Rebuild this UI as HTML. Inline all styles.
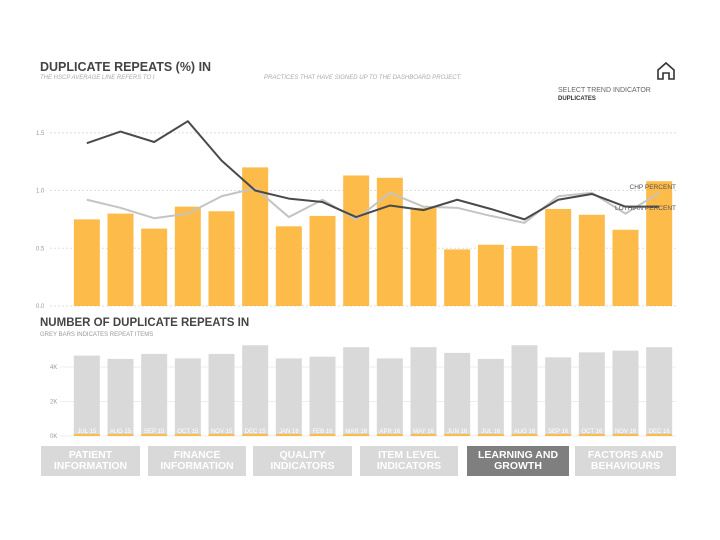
<!DOCTYPE html>
<html><head><meta charset="utf-8"><style>
body{margin:0;background:#fff;font-family:"Liberation Sans",sans-serif;}
#wrap{position:relative;width:720px;height:540px;overflow:hidden;}
.btn{position:absolute;top:446px;height:30px;background:#d9d9d9;color:#fff;font-weight:bold;font-size:10.5px;line-height:11px;text-align:center;display:flex;align-items:center;justify-content:center;}
</style></head><body>
<div id="wrap">
<div style="position:absolute;left:40px;top:60px;font-size:12.5px;font-weight:bold;color:#444;">DUPLICATE REPEATS (%) IN</div>
<div style="position:absolute;left:40px;top:75px;font-size:6px;font-style:italic;color:#aaa;">THE HSCP AVERAGE LINE REFERS TO I</div>
<div style="position:absolute;left:264px;top:75px;font-size:6px;font-style:italic;color:#aaa;">PRACTICES THAT HAVE SIGNED UP TO THE DASHBOARD PROJECT.</div>
<div style="position:absolute;left:558px;top:87px;font-size:7px;color:#666;">SELECT TREND INDICATOR</div>
<div style="position:absolute;left:558px;top:96px;font-size:6px;color:#333;font-weight:bold;">DUPLICATES</div>
<svg style="position:absolute;left:655px;top:60px" width="22" height="22" viewBox="0 0 22 22"><path d="M3 10 L11 3 L19 10 V19 H14 V13 H8 V19 H3 Z" fill="none" stroke="#333" stroke-width="1.6"/></svg>
<div style="position:absolute;left:40px;top:317px;font-size:11.5px;font-weight:bold;color:#444;">NUMBER OF DUPLICATE REPEATS IN</div>
<div style="position:absolute;left:40px;top:332px;font-size:6px;color:#999;">GREY BARS INDICATES REPEAT ITEMS</div>
<svg id="chart" width="720" height="540" style="position:absolute;left:0;top:0"></svg>
<div class="btn" style="left:41px;width:99px;">PATIENT<br>INFORMATION</div>
<div class="btn" style="left:148px;width:98px;">FINANCE<br>INFORMATION</div>
<div class="btn" style="left:253px;width:99px;">QUALITY<br>INDICATORS</div>
<div class="btn" style="left:360px;width:98px;">ITEM LEVEL<br>INDICATORS</div>
<div class="btn" style="left:467px;width:102px;background:#7f7f7f;">LEARNING AND<br>GROWTH</div>
<div class="btn" style="left:575px;width:101px;">FACTORS AND<br>BEHAVIOURS</div>
</div>
<script>
const months=["JUL 15","AUG 15","SEP 15","OCT 15","NOV 15","DEC 15","JAN 16","FEB 16","MAR 16","APR 16","MAY 16","JUN 16","JUL 16","AUG 16","SEP 16","OCT 16","NOV 16","DEC 16"];
const pctBars=[0.75,0.80,0.67,0.86,0.82,1.20,0.69,0.78,1.13,1.11,0.85,0.49,0.53,0.52,0.84,0.79,0.66,1.08];
const chpLine=[1.41,1.51,1.42,1.60,1.26,1.00,0.93,0.90,0.77,0.87,0.83,0.92,0.84,0.75,0.92,0.97,0.86,0.86];
const lothianLine=[0.92,0.85,0.76,0.80,0.95,1.02,0.77,0.92,0.75,0.98,0.86,0.85,0.78,0.72,0.95,0.98,0.80,0.98];
const pctTicks=[0,0.5,1.0,1.5];
const countBars=[4.66,4.47,4.76,4.50,4.76,5.26,4.50,4.60,5.15,4.50,5.15,4.82,4.47,5.26,4.56,4.85,4.95,5.15];
const countTicks=[0,2,4];
const NS="http://www.w3.org/2000/svg";
const svg=document.getElementById('chart');
function mk(t,a,p){const e=document.createElementNS(NS,t);for(const k in a)e.setAttribute(k,a[k]);(p||svg).appendChild(e);return e;}
const x0=70,x1=676,step=(x1-x0)/months.length,bw=26;
const xc=i=>x0+step*(i+0.5);
const y1=v=>306-v*115.5;
const y2=v=>436-v*17.25;
pctTicks.forEach(t=>{
 const g=mk('line',{x1:50,x2:676,y1:y1(t),y2:y1(t),stroke:'#ddd','stroke-dasharray':'2,2'});
 
 const l=mk('text',{x:36,y:y1(t)+2,'font-size':6,fill:'#999'});l.textContent=t.toFixed(1);
 
});
pctBars.forEach((v,i)=>{
 const r=mk('rect',{x:xc(i)-bw/2,y:y1(v),width:bw,height:y1(0)-y1(v),fill:'#fdbb4a'});
 
});
function line(arr,col,name){
 const p=mk('polyline',{points:arr.map((v,i)=>xc(i)+','+y1(v)).join(' '),fill:'none',stroke:col,'stroke-width':2,'stroke-linejoin':'round'});
 
}
line(lothianLine,'#c4c4c4','lothian-percent-line');
line(chpLine,'#4a4a4a','chp-percent-line');
let t=mk('text',{x:676,y:189,'font-size':6.5,fill:'#555','text-anchor':'end'});t.textContent='CHP PERCENT';

t=mk('text',{x:676,y:210,'font-size':6.5,fill:'#555','text-anchor':'end'});t.textContent='LOTHIAN PERCENT';

countTicks.forEach(c=>{
 const g=mk('line',{x1:60,x2:676,y1:y2(c),y2:y2(c),stroke:'#eee'});
 
 const l=mk('text',{x:50,y:y2(c)+2,'font-size':6,fill:'#999'});l.textContent=c+'K';
 
});
countBars.forEach((v,i)=>{
 const r=mk('rect',{x:xc(i)-bw/2,y:y2(v),width:bw,height:y2(0)-y2(v),fill:'#d9d9d9'});
 
 const o=mk('rect',{x:xc(i)-bw/2,y:y2(0)-2,width:bw,height:2,fill:'#fdbb4a'});
 
 const l=mk('text',{x:xc(i),y:y2(0)-3,'font-size':6,fill:'#fff','text-anchor':'middle'});l.textContent=months[i];
 
});
</script>
</body></html>
